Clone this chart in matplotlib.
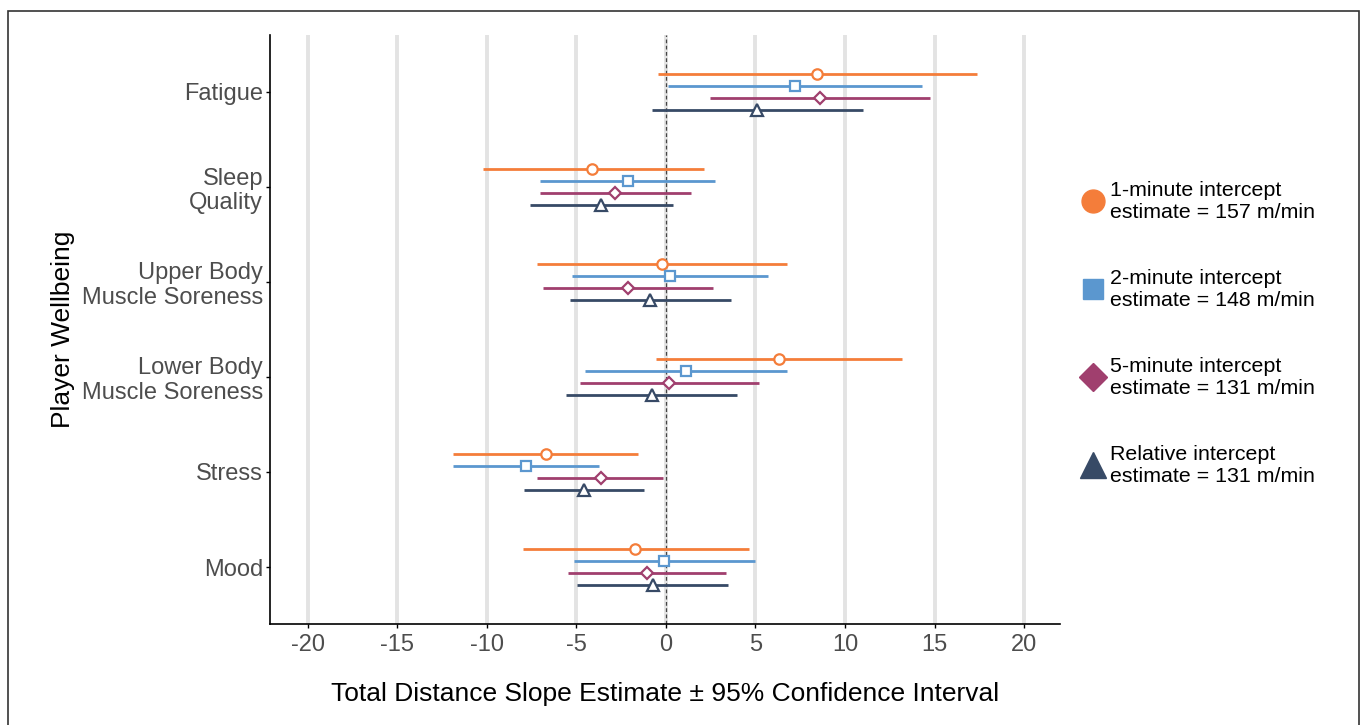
import numpy as np
import matplotlib.pyplot as plt
from matplotlib.lines import Line2D
from matplotlib.patches import Rectangle

plt.rcParams['font.family'] = ['Liberation Sans', 'DejaVu Sans']
plt.rcParams['axes.unicode_minus'] = False

# data
outcomes = ['Fatigue', 'Sleep\nQuality', 'Upper Body\nMuscle Soreness',
            'Lower Body\nMuscle Soreness', 'Stress', 'Mood']
models = ['1-minute intercept\nestimate = 157 m/min',
          '2-minute intercept\nestimate = 148 m/min',
          '5-minute intercept\nestimate = 131 m/min',
          'Relative intercept\nestimate = 131 m/min']

est_1min = [8.41, -4.11, -0.23, 6.29, -6.71, -1.70]
lo_1min = [-0.42, -10.23, -7.17, -0.57, -11.87, -7.99]
hi_1min = [17.34, 2.12, 6.77, 13.20, -1.53, 4.65]

est_2min = [7.20, -2.12, 0.23, 1.10, -7.82, -0.08]
lo_2min = [0.11, -7.00, -5.24, -4.53, -11.87, -5.13]
hi_2min = [14.28, 2.72, 5.69, 6.77, -3.74, 4.99]

est_5min = [8.58, -2.83, -2.12, 0.20, -3.65, -1.05]
lo_5min = [2.44, -7.03, -6.86, -4.79, -7.20, -5.47]
hi_5min = [14.76, 1.39, 2.61, 5.18, -0.17, 3.37]

est_rel = [5.10, -3.60, -0.88, -0.79, -4.59, -0.74]
lo_rel = [-0.76, -7.60, -5.38, -5.55, -7.93, -4.96]
hi_rel = [10.99, 0.42, 3.65, 3.97, -1.22, 3.48]

estimates = [est_1min, est_2min, est_5min, est_rel]
lowers = [lo_1min, lo_2min, lo_5min, lo_rel]
uppers = [hi_1min, hi_2min, hi_5min, hi_rel]

colors = ['#F47D3A', '#5B97CF', '#A03F6E', '#374A66']
markers = ['o', 's', 'D', '^']
msizes = [7.5, 6.5, 6.5, 8.5]
offsets = [0.19, 0.063, -0.063, -0.19]

fig = plt.figure(figsize=(13.67, 7.25), dpi=100)
ax = fig.add_axes([270 / 1367, 1 - 624 / 725, 790 / 1367, 589 / 725])

ypos = np.arange(len(outcomes))[::-1] + 1

for xv in range(-20, 25, 5):
    ax.axvline(xv, color='#E3E3E3', lw=2.8, zorder=0)
ax.axvline(0, color='#444444', lw=0.9, ls=(0, (3, 2)), zorder=1)

for est, lo, hi, c, m, ms, off in zip(estimates, lowers, uppers, colors, markers, msizes, offsets):
    y = ypos + off
    ax.hlines(y, lo, hi, color=c, lw=2, zorder=2)
    ax.plot(est, y, ls='none', marker=m, ms=ms, mfc='white', mec=c, mew=1.6, zorder=3)

ax.set_xlim(-22.1, 22)
ax.set_ylim(0.4, 6.6)
ax.set_xticks(range(-20, 25, 5))
ax.set_yticks(ypos)
ax.set_yticklabels(outcomes, fontsize=17, color='#4D4D4D', linespacing=1.15)
ax.tick_params(axis='x', labelsize=17, labelcolor='#4D4D4D', length=3, width=1, pad=4)
ax.tick_params(axis='y', length=3, width=1, pad=2)
for side in ['top', 'right']:
    ax.spines[side].set_visible(False)
for side in ['left', 'bottom']:
    ax.spines[side].set_linewidth(1.2)

ax.set_xlabel('Total Distance Slope Estimate \u00b1 95% Confidence Interval', fontsize=19, labelpad=19)
ax.set_ylabel('Player Wellbeing', fontsize=19, labelpad=5)

handles = [Line2D([], [], ls='none', marker=m, ms=ms * 2.2, mfc=c, mec=c, color=c)
           for m, ms, c in zip(markers, msizes, colors)]
handles[2] = Line2D([], [], ls='none', marker='D', ms=14, mfc=colors[2], mec=colors[2])
leg = fig.legend(handles, models, loc='upper left', bbox_to_anchor=(1071 / 1367, 1 - 172 / 725),
                 frameon=False, fontsize=15.4, labelspacing=2.2, handletextpad=0.1,
                 handlelength=1.3, borderaxespad=0)
for t in leg.get_texts():
    t.set_linespacing(1.2)

fig.add_artist(Rectangle((8 / 1367, -0.05), 1351 / 1367, 1.05 - 11 / 725,
                         transform=fig.transFigure, fill=False, ec='#333333', lw=1.2))

fig.savefig('out.png', dpi=100, facecolor='white')
